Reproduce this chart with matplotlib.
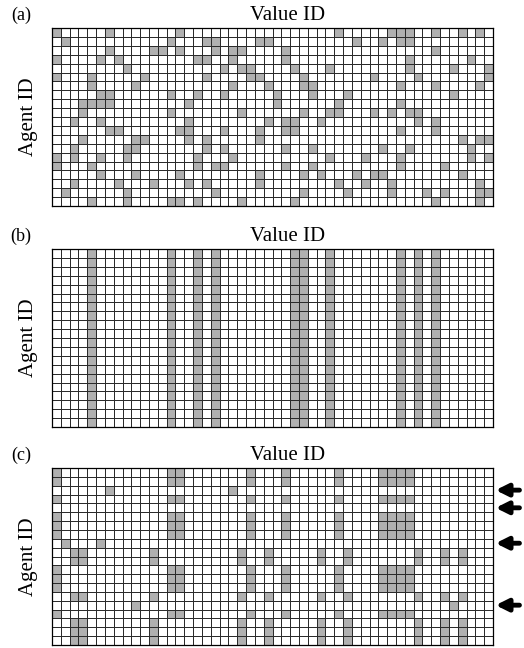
import numpy as np
import matplotlib
matplotlib.use("Agg")
import matplotlib.pyplot as plt
from matplotlib.colors import ListedColormap

plt.rcParams['font.family'] = ['Liberation Serif', 'DejaVu Serif']

n_agents = 20
n_values = 50

# (a) value IDs held by each agent (row = agent)
shaded_a = [
    [0, 6, 14, 32, 38, 39, 40, 43, 46, 48],
    [1, 13, 17, 18, 23, 24, 34, 37, 39, 40],
    [6, 11, 12, 14, 18, 20, 21, 26, 43],
    [0, 5, 7, 16, 17, 20, 26, 40, 47],
    [8, 19, 21, 22, 27, 31, 40, 45, 49],
    [0, 4, 10, 17, 22, 23, 28, 36, 41, 49],
    [4, 9, 20, 24, 28, 29, 39, 43, 48],
    [5, 6, 13, 16, 19, 25, 29, 33, 45],
    [3, 4, 5, 6, 15, 25, 32, 39],
    [3, 13, 21, 28, 31, 32, 36, 38, 40, 41],
    [2, 5, 15, 24, 26, 27, 30, 41, 43],
    [6, 7, 14, 15, 19, 23, 26, 27, 39, 43],
    [3, 9, 10, 15, 17, 23, 46, 48, 49],
    [2, 8, 9, 17, 19, 26, 29, 37, 40, 47],
    [0, 2, 5, 8, 16, 20, 31, 35, 39, 47, 49],
    [0, 4, 16, 18, 19, 26, 29, 39, 44],
    [5, 9, 14, 23, 28, 30, 34, 36, 37, 46],
    [2, 7, 11, 15, 17, 23, 32, 35, 38, 48],
    [1, 8, 18, 28, 33, 38, 42, 44, 48, 49],
    [4, 8, 13, 14, 16, 21, 27, 43, 48],
]

# (b) all agents share the same values
shaded_b_cols = [4, 13, 16, 18, 27, 28, 31, 39, 41, 43]

# (c) two clusters of agents plus a few outliers
group1_rows = [0, 1, 3, 5, 6, 7, 11, 12, 13, 16]
group1_cols = [0, 13, 14, 22, 26, 32, 37, 38, 39, 40]
group2_rows = [9, 10, 14, 17, 18, 19]
group2_cols = [2, 3, 11, 21, 24, 30, 33, 41, 44, 46]
outlier_rows = [2, 4, 8, 15]
outlier_cols = [[6, 20], [], [1, 5], [9, 45]]
arrow_rows = [2, 4, 8, 15]

mat_a = np.zeros((n_agents, n_values))
for r, cols in enumerate(shaded_a):
    mat_a[r, cols] = 1

mat_b = np.zeros((n_agents, n_values))
mat_b[:, shaded_b_cols] = 1

mat_c = np.zeros((n_agents, n_values))
mat_c[np.ix_(group1_rows, group1_cols)] = 1
mat_c[np.ix_(group2_rows, group2_cols)] = 1
for r, cols in zip(outlier_rows, outlier_cols):
    mat_c[r, cols] = 1

W, H = 524, 648
fig = plt.figure(figsize=(W / 100, H / 100), dpi=100)
cmap = ListedColormap(['white', '#b0b0b0'])

# panel boxes in pixels: (left, top, right, bottom)
boxes = [(52, 28, 493, 206), (52, 249, 493, 427), (52, 468, 493, 645)]
labels = ['(a)', '(b)', '(c)']
mats = [mat_a, mat_b, mat_c]
axes = []
for (l, t, r, b), lab, m in zip(boxes, labels, mats):
    ax = fig.add_axes([l / W, 1 - b / H, (r - l) / W, (b - t) / H])
    ax.pcolormesh(m, cmap=cmap, vmin=0, vmax=1, edgecolors='#2b2b2b', linewidth=0.6)
    ax.set_xlim(0, n_values)
    ax.set_ylim(n_agents, 0)
    ax.set_xticks([])
    ax.set_yticks([])
    for s in ax.spines.values():
        s.set_linewidth(0.9)
    fig.text(21 / W, 1 - (t - 13) / H, lab, ha='center', va='center', fontsize=13)
    fig.text(288 / W, 1 - (t - 13) / H, 'Value ID', ha='center', va='center', fontsize=15)
    fig.text(28 / W, 1 - (t + b) / 2 / H, 'Agent ID', ha='center', va='center',
             rotation=90, fontsize=15)
    axes.append(ax)

ax_c = axes[2]
for r in arrow_rows:
    ax_c.annotate('', xy=(50.3, r + 0.5), xytext=(53.0, r + 0.5), xycoords='data',
                  annotation_clip=False,
                  arrowprops=dict(arrowstyle='-|>', lw=3.5, mutation_scale=18,
                                  color='black', shrinkA=0, shrinkB=0))

fig.savefig('out.png', dpi=100)
